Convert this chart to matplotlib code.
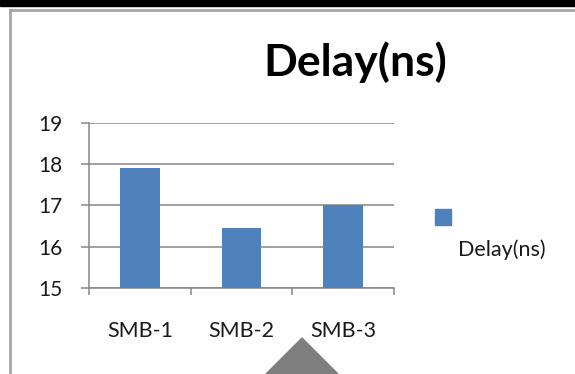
import matplotlib
matplotlib.use("Agg")
import matplotlib.pyplot as plt
from matplotlib.patches import Rectangle, Polygon
from matplotlib.lines import Line2D

# ── Data ────────────────────────────────────────────────────────────────
categories = ["SMB-1", "SMB-2", "SMB-3"]
delay_ns = [17.9, 16.45, 17.02]
series_name = "Delay(ns)"
y_ticks = [15, 16, 17, 18, 19]

BAR_COLOR = "#4F81BD"
GRID_COLOR = "#868686"
TEXT_COLOR = "#1a1a1a"
W, H = 575, 374

plt.rcParams["font.family"] = ["Lato", "DejaVu Sans"]

fig = plt.figure(figsize=(W / 100, H / 100), dpi=100)
fig.patch.set_facecolor("white")


def fx(px):
    return px / W


def fy(py):
    return 1 - py / H


# ── Plot area ───────────────────────────────────────────────────────────
ax = fig.add_axes([fx(89), fy(288), fx(394) - fx(89), fy(122.7) - fy(288)])
x = list(range(len(categories)))
ax.bar(x, delay_ns, width=0.39, color=BAR_COLOR, zorder=3)
ax.set_ylim(15, 19)
ax.set_xlim(-0.5, len(categories) - 0.5)
ax.set_yticks(y_ticks)
ax.set_yticklabels([str(v) for v in y_ticks], fontsize=15, color=TEXT_COLOR)
ax.yaxis.grid(True, color=GRID_COLOR, linewidth=1.1, zorder=0)

# category boundaries carry the tick marks, centres carry the labels
ax.set_xticks([i - 0.5 for i in range(len(categories) + 1)])
ax.set_xticklabels([])
ax.set_xticks(x, minor=True)
ax.set_xticklabels(categories, minor=True, fontsize=15.5, color=TEXT_COLOR)
ax.tick_params(axis="x", which="major", length=5, width=1.1, color=GRID_COLOR)
ax.tick_params(axis="x", which="minor", length=0, pad=24)
ax.tick_params(axis="y", length=6, width=1.1, color=GRID_COLOR, pad=13)

for side in ["top", "right"]:
    ax.spines[side].set_visible(False)
for side in ["left", "bottom"]:
    ax.spines[side].set_color(GRID_COLOR)
    ax.spines[side].set_linewidth(1.1)

# ── Title and legend ────────────────────────────────────────────────────
fig.text(fx(355), fy(76), series_name, fontsize=32, fontweight="bold",
         ha="center", va="baseline", color="black")
fig.patches.append(Rectangle((fx(435), fy(225)), fx(16), fy(209) - fy(225),
                             transform=fig.transFigure, color=BAR_COLOR))
fig.text(fx(458), fy(256), series_name, fontsize=15.5, ha="left", va="baseline",
         color=TEXT_COLOR)

# ── Frame around the chart ──────────────────────────────────────────────
fig.patches.append(Rectangle((0, fy(6)), 1, 1 - fy(6), transform=fig.transFigure,
                             color="black"))
fig.lines.append(Line2D([fx(9.5), 1], [fy(10), fy(10)], transform=fig.transFigure,
                        color="#a6a6a6", linewidth=2))
fig.lines.append(Line2D([fx(9.5), fx(9.5)], [fy(10), 0], transform=fig.transFigure,
                        color="#a6a6a6", linewidth=2))

# pointer shape overlapping the bottom edge
fig.patches.append(Polygon([(fx(302), fy(338)), (fx(339), fy(375)), (fx(265), fy(375))],
                           closed=True, transform=fig.transFigure, color="#7f7f7f"))

fig.savefig("out.png", dpi=100)
